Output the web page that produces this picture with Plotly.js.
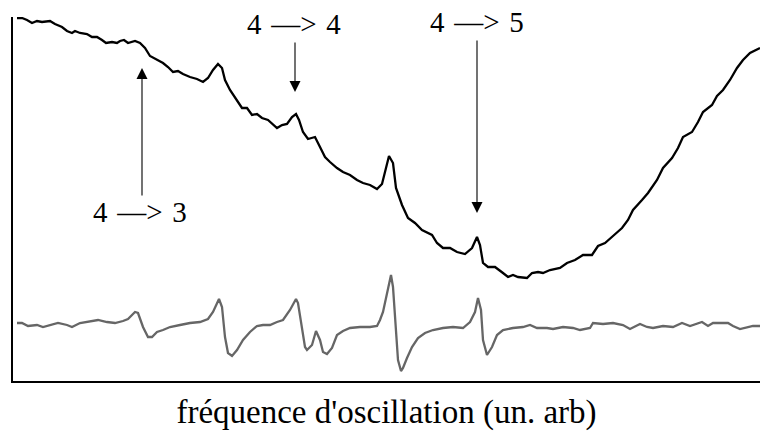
<!DOCTYPE html>
<html>
<head>
<meta charset="utf-8">
<script src="https://cdn.plot.ly/plotly-3.0.1.min.js"></script>
<style>html,body{margin:0;padding:0;background:#fff;}#chart{width:760px;height:434px;}</style>
</head>
<body>
<div id="chart"></div>
<script>
// Absorption signal (black trace), arbitrary units
const freqAbs = [17,22,27,32,37,42,50,55,62,67,72,75,80,87,92,97,102,106,112,117,120,124,128,135,140,145,150,155,163,168,173,178,183,190,197,203,208,213,218,222,225,230,235,242,247,252,257,262,268,273,277,282,287,292,296,299,303,308,315,320,325,330,337,343,350,357,363,370,377,382,385,389,393,396,402,408,415,422,432,437,443,450,457,465,472,477,480,483,488,495,503,508,513,518,527,532,538,543,550,560,567,575,583,592,598,605,613,622,628,633,642,648,657,663,672,678,683,692,698,703,712,717,723,730,737,743,750,757,760];
const absorption = [363,363,361,358,360,359,360,357,354,350,348,350,348,347,344,344,341,338,339,338,340,341,338,340,338,333,325,322,318,314,309,310,307,304,302,299,303,311,317,313,301,291,283,273,273,266,267,263,261,257,253,256,257,264,267,261,249,242,244,234,224,219,213,209,206,201,198,196,192,197,209,225,218,193,176,163,158,151,146,138,133,133,129,127,133,144,136,118,114,114,108,104,106,104,103,108,109,108,111,113,118,121,126,126,135,138,145,153,161,171,181,188,201,213,223,233,244,249,259,269,276,285,291,301,313,321,328,331,333];

// Derivative signal (gray trace), arbitrary units
const freqDer = [17,22,28,37,43,50,58,67,72,80,90,98,107,115,123,128,135,138,143,148,152,157,163,170,180,190,200,208,213,219,222,225,228,232,237,243,250,257,263,270,277,283,290,296,298,302,305,307,312,316,320,323,327,332,337,343,350,360,370,377,380,383,387,391,393,396,398,401,403,407,412,418,425,433,443,453,463,470,475,478,481,483,487,492,497,503,513,523,530,537,547,553,563,573,580,590,593,603,613,623,630,640,647,653,663,673,682,690,702,708,713,728,733,740,747,753,760];
const derivative = [58,58,55,56,54,56,58,56,54,58,60,61,59,58,60,62,69,68,54,44,44,49,51,54,56,58,59,62,69,82,74,44,28,25,31,41,49,55,56,56,59,61,71,82,78,54,34,31,36,50,41,29,27,33,46,50,53,54,54,55,61,69,88,106,94,54,21,10,13,23,34,43,48,51,53,54,53,59,69,83,71,41,26,34,46,51,53,54,56,53,53,52,54,53,51,53,58,57,58,56,52,57,54,53,55,54,58,55,59,55,58,58,55,52,54,55,55];

// Transition labels and their arrows
const labels = ["4\u2004—>\u20043", "4\u2004—>\u20044", "4\u2004—>\u20045"];
const labelX = [140, 294, 477];
const labelY = [169, 357, 359];
const arrowTailX = [142, 295, 477];
const arrowTailY = [184, 340, 342];
const arrowTipX = [142, 295, 477];
const arrowTipY = [313, 289, 168];

const xTitle = "fréquence d'oscillation (un. arb)";

const serif = "Liberation Serif, Times New Roman, serif";

const traces = [
  {x: freqAbs, y: absorption, mode: 'lines', line: {color: '#000000', width: 2.3}, hoverinfo: 'skip', showlegend: false},
  {x: freqDer, y: derivative, mode: 'lines', line: {color: '#666666', width: 2.3}, hoverinfo: 'skip', showlegend: false}
];

const annotations = [];
for (let i = 0; i < labels.length; i++) {
  annotations.push({
    x: labelX[i], y: labelY[i], xref: 'x', yref: 'y',
    text: labels[i], showarrow: false,
    font: {family: serif, size: 29, color: '#000'},
    xanchor: 'center', yanchor: 'middle'
  });
  annotations.push({
    x: arrowTipX[i], y: arrowTipY[i], xref: 'x', yref: 'y',
    ax: arrowTailX[i], ay: arrowTailY[i], axref: 'x', ayref: 'y',
    text: '', showarrow: true,
    arrowhead: 2, arrowsize: 2, arrowwidth: 1.1, arrowcolor: '#000'
  });
}

const layout = {
  width: 760, height: 434,
  margin: {l: 13, r: 0, t: 17, b: 53},
  paper_bgcolor: '#ffffff', plot_bgcolor: '#ffffff',
  showlegend: false,
  xaxis: {
    range: [13, 760], showline: true, linewidth: 2, linecolor: '#000',
    showgrid: false, zeroline: false, ticks: '', showticklabels: false,
    title: {text: xTitle, font: {family: serif, size: 33, color: '#000'}, standoff: 18}
  },
  yaxis: {
    range: [0, 364], showline: true, linewidth: 2, linecolor: '#000',
    showgrid: false, zeroline: false, ticks: '', showticklabels: false
  },
  annotations: annotations
};

Plotly.newPlot('chart', traces, layout, {staticPlot: true, displayModeBar: false});
</script>
</body>
</html>
